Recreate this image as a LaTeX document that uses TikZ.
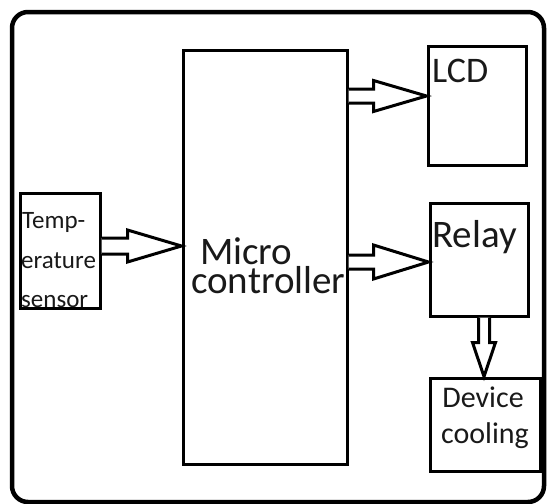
\documentclass[tikz,border=0pt]{standalone}
\usepackage{fontspec}
\setmainfont{Carlito}
\usetikzlibrary{calc}
\tikzset{
  box/.style={draw=black, line width=3pt, inner sep=0pt, rectangle},
  outerbox/.style={draw=black, line width=4.5pt, rounded corners=16pt},
  blk/.style={draw=black, line width=3pt, line join=miter, fill=white},
  lbl/.style={inner sep=0pt, anchor=base west, text=black!90},
  clbl/.style={inner sep=0pt, anchor=base, text=black!90}
}
% horizontal hollow block arrow: #1 start, #2 tip, #3 shaft half, #4 head half, #5 head length
\newcommand{\hblock}[5]{%
  \draw[blk] ($(#1)+(0,-#3)$) -- ($(#2)+(-#5,-#3)$) -- ($(#2)+(-#5,-#4)$) -- (#2)
    -- ($(#2)+(-#5,#4)$) -- ($(#2)+(-#5,#3)$) -- ($(#1)+(0,#3)$);}
% vertical (downward) hollow block arrow
\newcommand{\vblock}[5]{%
  \draw[blk] ($(#1)+(-#3,0)$) -- ($(#2)+(-#3,-#5)$) -- ($(#2)+(-#4,-#5)$) -- (#2)
    -- ($(#2)+(#4,-#5)$) -- ($(#2)+(#3,-#5)$) -- ($(#1)+(#3,0)$);}
\begin{document}
\begin{tikzpicture}[x=1pt,y=-1pt]
\useasboundingbox (0,0) rectangle (547,504);
\draw[outerbox] (12,12) rectangle (544,502);

\node[box, minimum width=164pt, minimum height=414pt] (micro) at (265,257) {};
\node[box, minimum width=98pt, minimum height=119pt] (lcd) at (477,105.5) {};
\node[box, minimum width=80pt, minimum height=115pt] (temp) at (60,250.5) {};
\node[box, minimum width=98pt, minimum height=113pt] (relay) at (479,259.5) {};
\node[box, minimum width=110pt, minimum height=93pt] (dev) at (485,424.5) {};

% texts
\node[lbl, font=\fontsize{39}{28}\selectfont] (m1) at (200,264) {Micro};
\node[lbl, font=\fontsize{39}{28}\selectfont] (m2) at (191,293) {controller};
\node[lbl, font=\fontsize{36}{40}\selectfont] (lcdt) at (432,82) {LCD};
\node[lbl, font=\fontsize{39}{40}\selectfont] (relayt) at (432,247) {Relay};
\node[lbl, font=\fontsize{25}{40}\selectfont] (t1) at (22,228) {Temp-};
\node[lbl, font=\fontsize{25}{40}\selectfont] (t2) at (21,268) {erature};
\node[lbl, font=\fontsize{25}{40}\selectfont] (t3) at (21,307) {sensor};
\node[clbl, font=\fontsize{30}{36}\selectfont] (d1) at (483,407) {Device};
\node[clbl, font=\fontsize{30}{36}\selectfont] (d2) at (485,443) {cooling};

% arrow end points
\coordinate (a1s) at (temp.east |- 0,246);
\coordinate (a1t) at (micro.west |- 0,246);
\coordinate (a2s) at (micro.east |- 0,96);
\coordinate (a2t) at (lcd.west |- 0,96);
\coordinate (a3s) at (micro.east |- 0,262);
\coordinate (a3t) at (relay.west |- 0,262);
\coordinate (a4s) at (484,0 |- relay.south);
\coordinate (a4t) at (484,0 |- dev.north);

\hblock{a1s}{a1t}{8}{16}{54}
\hblock{a2s}{a2t}{7}{15.5}{53}
\hblock{a3s}{a3t}{7}{17}{55}
\vblock{a4s}{a4t}{5.5}{11.5}{34}
\end{tikzpicture}
\end{document}
